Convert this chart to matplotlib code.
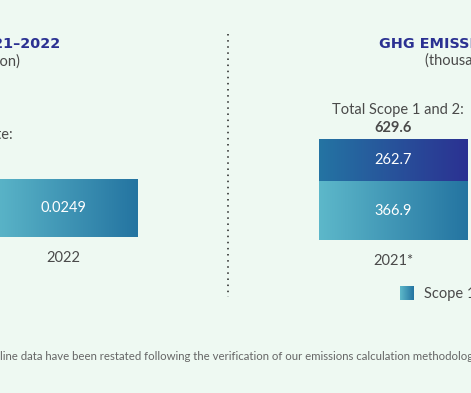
import numpy as np
import matplotlib
matplotlib.use("Agg")
from matplotlib import pyplot as plt
from matplotlib.colors import LinearSegmentedColormap
from matplotlib.lines import Line2D

# intensity chart (left)
int_years = ["2022"]
int_values = [0.0249]

# absolute emissions chart (right), thousand tonnes CO2e
abs_years = ["2021*"]
scope1 = [366.9]
scope2 = [262.7]
totals = [629.6]

BG = "#EEF9F2"
NAVY = "#2B3192"
GREY = "#4A4A4A"
teal_cmap = LinearSegmentedColormap.from_list("teal", ["#5DB8CA", "#2474A1"])
navy_cmap = LinearSegmentedColormap.from_list("navy", ["#2474A3", "#2B3192"])

plt.rcParams["font.family"] = ["Lato", "DejaVu Sans"]

W, H = 471, 393
fig = plt.figure(figsize=(W / 100, H / 100), dpi=100)
fig.patch.set_facecolor(BG)


def px_axes(x0, y_top, x1, y_bot):
    # axes placed in pixel coords (from top-left)
    return fig.add_axes([x0 / W, 1 - y_bot / H, (x1 - x0) / W, (y_bot - y_top) / H])


def grad_bar(ax, x, bottom, height, cmap):
    bar = ax.bar(x, height, bottom=bottom, width=1.0, color="none", edgecolor="none")[0]
    grad = np.linspace(0, 1, 256).reshape(1, -1)
    im = ax.imshow(grad, cmap=cmap, aspect="auto", zorder=1,
                   extent=[x - 0.5, x + 0.5, bottom, bottom + height])
    im.set_clip_path(bar)
    return bar


def clean(ax, ymax):
    ax.set_facecolor("none")
    ax.set_xlim(-0.5, 0.5)
    ax.set_ylim(0, ymax)
    for s in ax.spines.values():
        s.set_visible(False)
    ax.set_yticks([])
    ax.tick_params(axis="x", length=0, pad=10, labelsize=10.5, labelcolor=GREY)


# ---- left chart
axL = px_axes(-11, 179, 138, 237)
grad_bar(axL, 0, 0, int_values[0], teal_cmap)
axL.text(0, int_values[0] / 2, f"{int_values[0]:.4f}", ha="center", va="center",
         color="white", fontsize=10.5)
clean(axL, int_values[0])
axL.set_xticks([0])
axL.set_xticklabels(int_years)

# ---- right chart
axR = px_axes(319, 139, 468, 240)
grad_bar(axR, 0, 0, scope1[0], teal_cmap)
grad_bar(axR, 0, scope1[0], scope2[0], navy_cmap)
axR.text(0, scope1[0] / 2, f"{scope1[0]:.1f}", ha="center", va="center",
         color="white", fontsize=10.5)
axR.text(0, scope1[0] + scope2[0] / 2, f"{scope2[0]:.1f}", ha="center", va="center",
         color="white", fontsize=10.5)
axR.annotate("Total Scope 1 and 2:", (0.03, totals[0]), xytext=(0, 21),
             textcoords="offset points", ha="center", va="center",
             color=GREY, fontsize=10.5)
axR.annotate(f"{totals[0]:.1f}", (0.0, totals[0]), xytext=(0, 8),
             textcoords="offset points", ha="center", va="center",
             color=GREY, fontsize=10.5, fontweight="bold")
clean(axR, sum([scope1[0], scope2[0]]))
axR.set_xticks([0])
axR.set_xticklabels(abs_years)

# ---- headings
def ftext(x, y, s, **kw):
    fig.text(x / W, 1 - y / H, s, va="center", **kw)

ftext(60, 44, "GHG EMISSIONS INTENSITY 2021\u20132022", ha="right",
      color=NAVY, fontsize=10.4, fontweight="bold", family="DejaVu Sans")
ftext(20, 61, "(tonnes CO\u2082e per tonne of production)", ha="right",
      color=GREY, fontsize=10.5)
ftext(13, 135, "Total Scope 1 and 2 intensity rate:", ha="right",
      color=GREY, fontsize=10.5)
ftext(379, 44, "GHG EMISSIONS 2021\u20132022", ha="left",
      color=NAVY, fontsize=10.4, fontweight="bold", family="DejaVu Sans")
ftext(425, 61, "(thousand tonnes CO\u2082e)", ha="left",
      color=GREY, fontsize=10.5)

# legend swatch with gradient
axLeg = px_axes(400, 286, 414, 300)
axLeg.imshow(np.linspace(0, 1, 64).reshape(1, -1), cmap=teal_cmap, aspect="auto")
axLeg.axis("off")
ftext(424, 294, "Scope 1 emissions", ha="left", color=GREY, fontsize=10.5)

# divider
fig.add_artist(Line2D([228 / W, 228 / W], [1 - 34 / H, 1 - 297 / H],
                      transform=fig.transFigure, color="#222222", lw=1.1,
                      linestyle=(0, (1, 3.0))))

ftext(0, 356, "line data have been restated following the verification of our emissions calculation methodology.",
      ha="left", color="#666666", fontsize=8.2)

fig.savefig("out.png", dpi=100, facecolor=BG)
